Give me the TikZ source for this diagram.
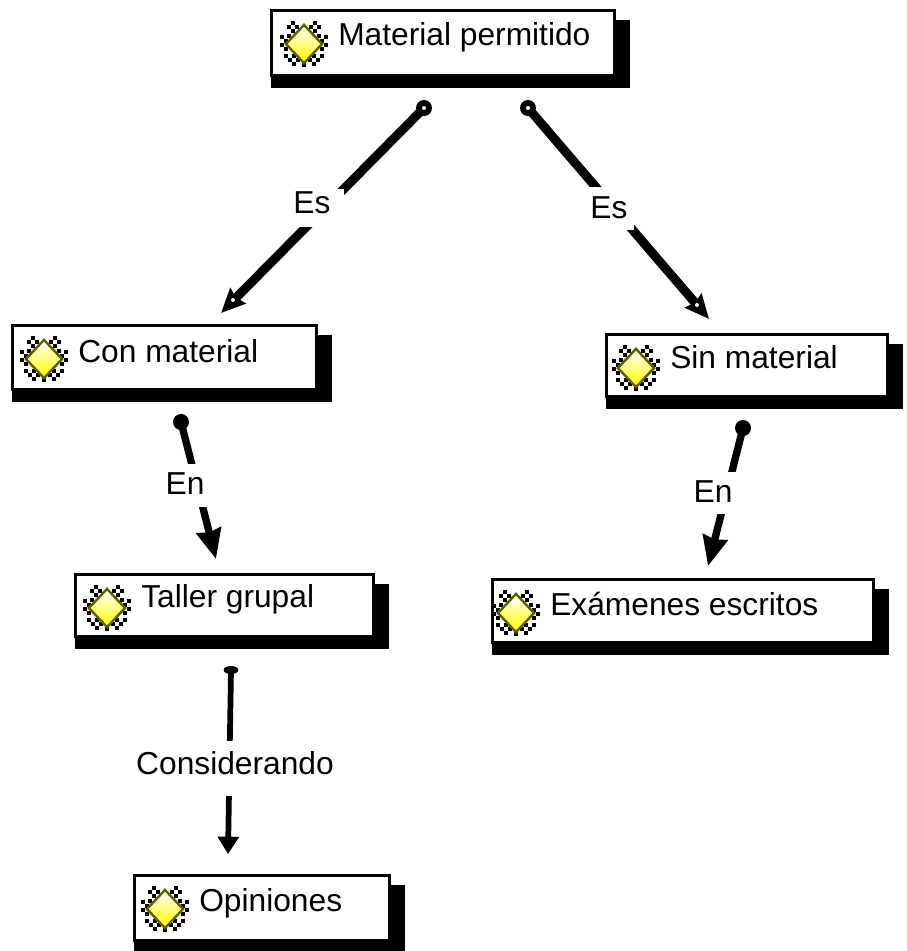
\documentclass[tikz,border=0pt]{standalone}
\usepackage{fontspec}
\setmainfont{Liberation Sans}
\usetikzlibrary{arrows.meta,backgrounds,shapes.geometric}
\definecolor{olivedge}{HTML}{5E5E00}
\tikzset{x=0.75pt,y=-0.75pt,
 boxnode/.style={draw=black,line width=2.6pt,fill=white,inner sep=0pt,outer sep=0pt,anchor=north west},
 shadownode/.style={fill=black,inner sep=0pt,outer sep=0pt,anchor=north west},
 boxtext/.style={font=\fontsize{23.8}{28}\selectfont,anchor=base west,inner sep=0pt},
 linktext/.style n args={3}{font=\fontsize{23.8}{28}\selectfont,fill=white,anchor=base,inner ysep=0pt,inner xsep=#1,text height=#2,text depth=#3},
 headsmall/.style={draw=black,line width=6.75pt,-{Stealth[length=18pt,width=16pt,inset=2pt]}},
 headlong/.style={draw=black,line width=5.5pt,-{Stealth[length=22pt,width=18.5pt,inset=1.5pt]}},
 headflat/.style={draw=black,line width=4.3pt,-{Stealth[length=13pt,width=15.5pt,inset=0pt]}},
 startdot/.style={circle,fill=black,inner sep=0pt,minimum size=12pt},
 startflat/.style={ellipse,fill=black,inner sep=0pt,minimum width=11pt,minimum height=6pt},
 holedot/.style={circle,fill=white,inner sep=0pt,minimum size=3pt},
}
\newcommand{\iconpic}[2]{%
 \begin{scope}[shift={(#1,#2)}]
 \foreach \a/\b in {-11/-20,-7/-16,-15/-16,-11/-12,11/-20,7/-16,15/-16,11/-12,-22/-6,-18/-2,-22/2,-18/6,-15/-7,22/-6,18/-2,22/2,18/6,15/-7,-18/13,-14/17,-10/13,-10/21,-6/17,18/13,14/17,10/13,10/21,6/17,0/22}
   \fill[black] (\a-2.4,\b-2.4) rectangle (\a+2.4,\b+2.4);
 \draw[line width=1.9pt,olivedge,fill=yellow] (0,-18) -- (18,1) -- (0,20) -- (-18,1) -- cycle;
 \shade[top color=white,bottom color=yellow] (0,-16) -- (16,1) -- (0,18) -- (-16,1) -- cycle;
 \end{scope}}
\newcommand{\conceptbox}[8]{%
 \node[shadownode,minimum width=#4*0.75pt-#2*0.75pt+9.75pt,minimum height=#5*0.75pt-#3*0.75pt] (#1-s) at (#2+1,#3+11) {};
 \node[boxnode,minimum width=#4*0.75pt-#2*0.75pt-2.6pt,minimum height=#5*0.75pt-#3*0.75pt-2.6pt] (#1) at (#2+1.7,#3+1.7) {};
 \iconpic{#6-34}{#3+34}
 \node[boxtext] (#1-t) at (#6,#7) {#8};}
\begin{document}
\begin{tikzpicture}
\useasboundingbox (0,0) rectangle (907,951);
\conceptbox{mat}{270}{9}{616}{77}{338}{45}{Material permitido}
\conceptbox{con}{11}{324}{318}{391}{78}{362}{Con material}
\conceptbox{sin}{605}{333}{889}{398}{670}{368}{Sin material}
\conceptbox{tal}{74}{573}{375}{638}{141}{607}{Taller grupal}
\conceptbox{exa}{491}{578}{875}{644}{550}{615}{Exámenes escritos}
\conceptbox{opi}{133}{874}{391}{942}{199}{911}{Opiniones}
\node[linktext={10pt}{18pt}{10.5pt}] (l1) at (312,213) {Es};
\node[linktext={5pt}{23pt}{9pt}] (l2) at (609,218) {Es};
\node[linktext={3pt}{22.5pt}{10pt}] (l3) at (185,494) {En};
\node[linktext={3pt}{22.5pt}{9pt}] (l4) at (713,502) {En};
\node[linktext={3pt}{25pt}{16.5pt}] (l5) at (235,774) {Considerando};
\node[startdot] (s1) at (424,108) {};
\node[startdot] (s2) at (528,108) {};
\node[startdot] (s3) at (181,422) {};
\node[startdot] (s4) at (743,428) {};
\node[startflat] (s5) at (231,670) {};
\node[holedot] (h1) at (424,108) {};
\node[holedot] (h2) at (528,108) {};
\coordinate (e1) at (221,313);
\coordinate (e2) at (709,319);
\coordinate (e3) at (216,559);
\coordinate (e4) at (708,566);
\coordinate (e5) at (228,854);
\begin{scope}[on background layer]
\draw[headsmall] (s1.center) -- (e1);
\draw[headsmall] (s2.center) -- (e2);
\draw[headlong] (s3.center) -- (e3);
\draw[headlong] (s4.center) -- (e4);
\draw[headflat] (s5.center) -- (e5);
\end{scope}
\node[holedot] (h3) at (233,300) {};
\node[holedot] (h4) at (697,305) {};
\end{tikzpicture}
\end{document}
